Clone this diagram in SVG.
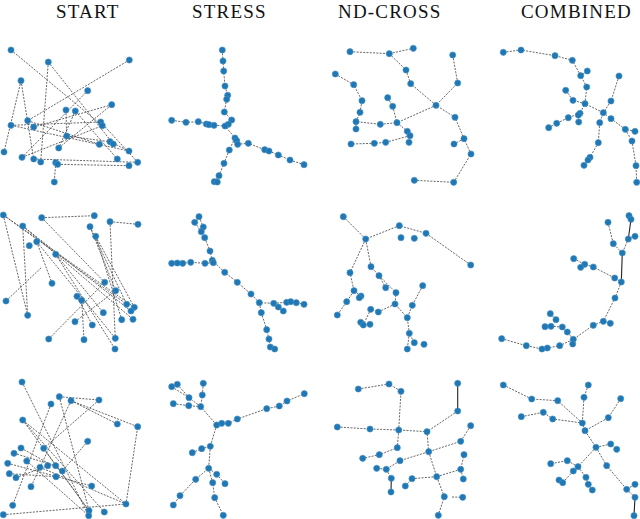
<svg xmlns="http://www.w3.org/2000/svg" width="640" height="519" viewBox="0 0 640 519">
<style>
.t{font-family:"Liberation Serif","Times New Roman",serif;font-size:19px;letter-spacing:1.2px;fill:#111}
.e{fill:none;stroke:#4a4a4a;stroke-width:0.85;stroke-dasharray:2 1.3}
.s{fill:none;stroke:#222;stroke-width:1.1}
circle{fill:#1f77b4;stroke:#4a93c8;stroke-width:0.6}
</style>
<rect width="640" height="519" fill="#fff"/>
<g id="titles">
<text class="t" x="56" y="18">START</text>
<text class="t" x="192" y="18">STRESS</text>
<text class="t" x="338" y="18">ND-CROSS</text>
<text class="t" x="521" y="18">COMBINED</text>
</g>
<g id="connectors">
<path class="e" d="M11,50L102.3,125.7M48.3,62L40.7,162M48.3,62L113.3,144M129.3,60L27.7,120.7M21,80.7L4,152M21,80.7L33.7,159M87.7,90.7L22,157.3M111.7,104.7L33.7,127M66,110L66.7,136M75.3,111L117.3,159M11,125.3L100.7,122M11,125.3L129,151M27.7,120.7L99.3,144.3M22,157.3L102.3,125.7M58.7,148L111.7,104.7M33.7,159L137.7,162.3M57.7,164.3L129,165.7M55.7,162.7L54.3,182M66.7,136L110,141.7M100.7,122L137.7,162.3M110,141.7L129,151M75.3,111L58.7,148"/>
<path class="e" d="M222.3,50L223,61L223.7,71L225,86L227.7,95.3L226.7,99.3L224.3,112L231.7,120L228.3,124.3L225,126M171.7,120.3L186,122.3L198.3,121.7L206.3,124L209,124.7L214,125.3L225,126L235,138L236.7,140.7L237.7,144.3L248.3,143.3L264.7,149.7L269,151L278.3,155L290,160L304,164.7M235,138L229.3,150L224,163.3L219,175.7L214.3,181.7L217.3,182"/>
<path class="e" d="M350,51.7L389.3,53.7L413.3,48.3M389.3,53.7L406,70L410.7,83.7L436,105.3L455,117.3L464,138.7L471,154L453.7,182.3L414.3,180.3M452.7,55L457.7,83L436,105.3L397,122.7M464,138.7L454,144M335.3,74L353.7,84.7L362,100.7L360,112.3L356,121.7L380.3,124.3L397,122.7M356,121.7L356,129M387.7,97.7L392.7,106.3L397,122.7L407.3,131.3L410,135.7L409,142.3M410,135.7L385.7,142.3L374.3,143.3L351,144"/>
<path class="e" d="M503.3,52.3L521,50L555,55.7L572.3,60.3L580.7,75.7L586.7,87L585,103.7L603.3,112.7L599.7,122.7L598.3,142.7L590,157.3L588,160L584,165.3M587.3,71L580.7,75.7M565.7,90.3L573,100.3L585,103.7L580,113.3L578.3,115L578.7,122M580,113.3L568.3,117.7L556.7,123.3L548.7,127.7M619,76L611,101L603.3,112.7L611,118.7L625.3,129.3L635,131.3M625.3,129.3L632,141L636,165.7L636.7,182.3"/>
<path class="e" d="M3.3,215L134.3,307.3M3.3,215L27.7,315.3M3.3,215L126.7,304.3M41.7,217.7L94.3,215.7M41.7,217.7L104.7,282.3M110,221.7L138,224.3M110,221.7L115.3,338.3M22.7,226L133,319.3M22.7,226L131,311M22.7,226L27.7,315.3M90,226.7L115.7,290.7M95.7,236.3L121.7,319.7M36.7,241.7L52,283.3M55.7,254.3L103.3,312.7M55.7,254.3L115,349M6,301L42,267M48.7,339L104.7,282.3M77,296.3L92.3,325M81.7,300.3L84,339.7M75,321.7L115.7,290.7M90,226.7L126.7,304.3M95.7,236.3L134.3,307.3M36.7,241.7L115.3,338.3"/>
<path class="e" d="M199,216.7L203.3,227L201.3,231.7L204.7,237.7L210,251L212.3,260.3L224.7,272.3L237.3,282.3L251,294L259.3,302.7L273.7,303.3L278.3,307L283.3,311M194.7,222.3L201.3,231.7M171.7,263.3L177.3,263L182.7,263.3L190.7,262.3L205,263.3L213.3,262.7L212.3,260.3M273.7,303.3L286.7,302.3L290.7,301.7L296.3,302.7L304,304.3M259.3,302.7L261.3,312.7L266.7,329.7L269,339L270.3,347L274.7,349"/>
<path class="e" d="M343.3,216.7L365.7,239L399.3,225.7L426,233.3L470.7,265M365.7,239L350,272.7L354,290.7L346.7,301.7L337.3,315M354,290.7L361,296L359.3,297.7M365.7,239L371,266.7L379,275.7L385.7,287.7M379,275.7L396,292.7L395,304L407.3,317.7M395,304L378.3,312L370.7,309.3L363.3,325L360.7,322.3M363.3,325L370,324.3M422.7,285.7L412.3,305.3L407.3,317.7L409.3,333.3L414.3,342.7M409.3,333.3L407.3,349"/>
<path class="e" d="M608,222.3L613.3,243.7L622.3,253M635,236.3L628.3,239L622.3,253M573.7,258.7L584.7,264.3L593.3,267L614.7,278L621.3,282L615,298L603.3,321.3L593.3,325.3L573.3,339.3L559.7,345.7L547.3,348L542,349L526.3,345.7L501.7,338.7M580.7,267.3L584.7,264.3M603.3,321.3L610.3,323.3M573.3,339.3L567.3,332L562.3,327L551,326.3L545,326.7M556,319.7L550.3,313.7M573.3,339.3L572.7,344"/>
<path class="s" d="M629,215.7L631,219.3L628.3,239M622.3,253L621.3,282"/>
<path class="e" d="M22,382L88.7,515.7M59.3,396.7L99,400M71,400.7L137.7,426.7L126,504M71,400.7L117.3,424M51,404L12.7,505.3M59.3,396.7L89,510.7M71,400.7L31,486.7M22.7,420L89,510.7M22.7,420L126,504M22.7,420L104.3,512M99,400L43.7,448.3M87.7,441.3L62.3,471M7.7,463.3L91.7,486M3.3,514.7L126,504M16,477.7L47.7,465.7M26.7,461L88.7,515.7M43.7,448.3L89,510.7M21,448L62.3,471M9.3,473.7L56,476.7M14,453.3L55.7,465.7M40,467.3L126,504"/>
<path class="e" d="M171.7,386.7L189,397.7L200.7,406.7M177.3,384.3L189,397.7M203.3,383.3L202.3,395L200.7,406.7M173.3,403.7L188.7,405.7L200.7,406.7L216.7,425L221.7,423.3L228.3,423.3L237.3,419L266.7,408.7L279.3,406L287,401L304.3,393.7M216.7,425L210.3,446.3L201.7,448.7L192.3,452.7M210.3,446.3L208.7,468.3L195.7,479.3L180,495.7L173.3,505M208.7,468.3L216.7,474.3L225,483.7M208.7,468.3L212.7,482.7L214.7,497.7L223.3,515.3"/>
<path class="e" d="M358.3,389L389,384L401,391.3L398.7,430M457.7,411L427,431.7M337.3,427L370,429L398.7,430L427,431.7L428.7,451.7M398.7,430L397.3,447.7L379.3,454.7L362.7,458.3M470.7,425.7L460.7,441.3L428.7,451.7L400,460.7L386.3,469.3L376.7,468.3M386.3,469.3L391.3,478.3M428.7,451.7L436.7,476.7L444.3,496.7L438.3,515.3M436.7,476.7L412,478.7L405.3,486M436.7,476.7L460.7,469.3L464,454.7M460.7,469.3L463.3,479M452,497L462.7,497.3"/>
<path class="s" d="M457.7,383.3L457.7,411M391.3,478.3L391,492"/>
<path class="e" d="M503.3,385L531.7,399L557.7,400.7L582.3,423M588.3,385L584,397.3L582.3,423M521.3,416.7L543.3,412.3L552.7,419L582.3,423L585,430.7M620.7,398.7L608.3,417.7L585,430.7L596,447.3L610.7,444L616.7,449.3M596,447.3L578,466.7L567.3,460.7L550.7,463.7M578,466.7L573.3,471L562.7,482.7L559,480M578,466.7L586,477.3L588.3,484.3L592.3,490M596,447.3L606.7,465.7L626.7,489.3L635,484.3M626.7,489.3L635,497.3"/>
<path class="s" d="M635,497.3L634,515.7"/>
</g>
<g id="nodes-start-1">
<g id="a1"><circle cx="11" cy="50" r="3.1"/></g><g id="a2"><circle cx="48.3" cy="62" r="3.1"/></g><g id="a3"><circle cx="129.3" cy="60" r="3.1"/></g><g id="a4"><circle cx="21" cy="80.7" r="3.1"/></g><g id="a5"><circle cx="87.7" cy="90.7" r="3.1"/></g><g id="a6"><circle cx="111.7" cy="104.7" r="3.1"/></g><g id="a7"><circle cx="66" cy="110" r="3.1"/></g><g id="a8"><circle cx="75.3" cy="111" r="3.1"/></g><g id="a9"><circle cx="27.7" cy="120.7" r="3.1"/></g><g id="a10"><circle cx="11" cy="125.3" r="3.1"/></g><g id="a11"><circle cx="33.7" cy="127" r="3.1"/></g><g id="a12"><circle cx="100.7" cy="122" r="3.1"/></g><g id="a13"><circle cx="102.3" cy="125.7" r="3.1"/></g><g id="a14"><circle cx="66.7" cy="136" r="3.1"/></g><g id="a15"><circle cx="110" cy="141.7" r="3.1"/></g><g id="a16"><circle cx="113.3" cy="144" r="3.1"/></g><g id="a17"><circle cx="99.3" cy="144.3" r="3.1"/></g><g id="a18"><circle cx="129" cy="151" r="3.1"/></g><g id="a19"><circle cx="58.7" cy="148" r="3.1"/></g><g id="a20"><circle cx="4" cy="152" r="3.1"/></g><g id="a21"><circle cx="22" cy="157.3" r="3.1"/></g><g id="a22"><circle cx="33.7" cy="159" r="3.1"/></g><g id="a23"><circle cx="40.7" cy="162" r="3.1"/></g><g id="a24"><circle cx="55.7" cy="162.7" r="3.1"/></g><g id="a25"><circle cx="57.7" cy="164.3" r="3.1"/></g><g id="a26"><circle cx="117.3" cy="159" r="3.1"/></g><g id="a27"><circle cx="137.7" cy="162.3" r="3.1"/></g><g id="a28"><circle cx="129" cy="165.7" r="3.1"/></g><g id="a29"><circle cx="54.3" cy="182" r="3.1"/></g>
</g>
<g id="nodes-stress-1">
<g id="b1"><circle cx="222.3" cy="50" r="3.1"/></g><g id="b2"><circle cx="223" cy="61" r="3.1"/></g><g id="b3"><circle cx="223.7" cy="71" r="3.1"/></g><g id="b4"><circle cx="225" cy="86" r="3.1"/></g><g id="b5"><circle cx="227.7" cy="95.3" r="3.1"/></g><g id="b6"><circle cx="226.7" cy="99.3" r="3.1"/></g><g id="b7"><circle cx="224.3" cy="112" r="3.1"/></g><g id="b8"><circle cx="231.7" cy="120" r="3.1"/></g><g id="b9"><circle cx="228.3" cy="124.3" r="3.1"/></g><g id="b10"><circle cx="225" cy="126" r="3.1"/></g><g id="b11"><circle cx="171.7" cy="120.3" r="3.1"/></g><g id="b12"><circle cx="186" cy="122.3" r="3.1"/></g><g id="b13"><circle cx="198.3" cy="121.7" r="3.1"/></g><g id="b14"><circle cx="206.3" cy="124" r="3.1"/></g><g id="b15"><circle cx="209" cy="124.7" r="3.1"/></g><g id="b16"><circle cx="214" cy="125.3" r="3.1"/></g><g id="b17"><circle cx="235" cy="138" r="3.1"/></g><g id="b18"><circle cx="236.7" cy="140.7" r="3.1"/></g><g id="b19"><circle cx="237.7" cy="144.3" r="3.1"/></g><g id="b20"><circle cx="248.3" cy="143.3" r="3.1"/></g><g id="b21"><circle cx="264.7" cy="149.7" r="3.1"/></g><g id="b22"><circle cx="269" cy="151" r="3.1"/></g><g id="b23"><circle cx="278.3" cy="155" r="3.1"/></g><g id="b24"><circle cx="290" cy="160" r="3.1"/></g><g id="b25"><circle cx="304" cy="164.7" r="3.1"/></g><g id="b26"><circle cx="229.3" cy="150" r="3.1"/></g><g id="b27"><circle cx="224" cy="163.3" r="3.1"/></g><g id="b28"><circle cx="219" cy="175.7" r="3.1"/></g><g id="b29"><circle cx="214.3" cy="181.7" r="3.1"/></g><g id="b30"><circle cx="217.3" cy="182" r="3.1"/></g>
</g>
<g id="nodes-ndcross-1">
<g id="c1"><circle cx="350" cy="51.7" r="3.1"/></g><g id="c2"><circle cx="389.3" cy="53.7" r="3.1"/></g><g id="c3"><circle cx="413.3" cy="48.3" r="3.1"/></g><g id="c4"><circle cx="406" cy="70" r="3.1"/></g><g id="c5"><circle cx="410.7" cy="83.7" r="3.1"/></g><g id="c6"><circle cx="452.7" cy="55" r="3.1"/></g><g id="c7"><circle cx="457.7" cy="83" r="3.1"/></g><g id="c8"><circle cx="335.3" cy="74" r="3.1"/></g><g id="c9"><circle cx="353.7" cy="84.7" r="3.1"/></g><g id="c10"><circle cx="362" cy="100.7" r="3.1"/></g><g id="c11"><circle cx="360" cy="112.3" r="3.1"/></g><g id="c12"><circle cx="387.7" cy="97.7" r="3.1"/></g><g id="c13"><circle cx="392.7" cy="106.3" r="3.1"/></g><g id="c14"><circle cx="436" cy="105.3" r="3.1"/></g><g id="c15"><circle cx="455" cy="117.3" r="3.1"/></g><g id="c16"><circle cx="356" cy="121.7" r="3.1"/></g><g id="c17"><circle cx="380.3" cy="124.3" r="3.1"/></g><g id="c18"><circle cx="397" cy="122.7" r="3.1"/></g><g id="c19"><circle cx="356" cy="129" r="3.1"/></g><g id="c20"><circle cx="407.3" cy="131.3" r="3.1"/></g><g id="c21"><circle cx="410" cy="135.7" r="3.1"/></g><g id="c22"><circle cx="409" cy="142.3" r="3.1"/></g><g id="c23"><circle cx="385.7" cy="142.3" r="3.1"/></g><g id="c24"><circle cx="374.3" cy="143.3" r="3.1"/></g><g id="c25"><circle cx="351" cy="144" r="3.1"/></g><g id="c26"><circle cx="464" cy="138.7" r="3.1"/></g><g id="c27"><circle cx="454" cy="144" r="3.1"/></g><g id="c28"><circle cx="471" cy="154" r="3.1"/></g><g id="c29"><circle cx="414.3" cy="180.3" r="3.1"/></g><g id="c30"><circle cx="453.7" cy="182.3" r="3.1"/></g>
</g>
<g id="nodes-combined-1">
<g id="d1"><circle cx="503.3" cy="52.3" r="3.1"/></g><g id="d2"><circle cx="521" cy="50" r="3.1"/></g><g id="d3"><circle cx="555" cy="55.7" r="3.1"/></g><g id="d4"><circle cx="572.3" cy="60.3" r="3.1"/></g><g id="d5"><circle cx="587.3" cy="71" r="3.1"/></g><g id="d6"><circle cx="580.7" cy="75.7" r="3.1"/></g><g id="d7"><circle cx="586.7" cy="87" r="3.1"/></g><g id="d8"><circle cx="619" cy="76" r="3.1"/></g><g id="d9"><circle cx="565.7" cy="90.3" r="3.1"/></g><g id="d10"><circle cx="573" cy="100.3" r="3.1"/></g><g id="d11"><circle cx="585" cy="103.7" r="3.1"/></g><g id="d12"><circle cx="611" cy="101" r="3.1"/></g><g id="d13"><circle cx="603.3" cy="112.7" r="3.1"/></g><g id="d14"><circle cx="580" cy="113.3" r="3.1"/></g><g id="d15"><circle cx="578.3" cy="115" r="3.1"/></g><g id="d16"><circle cx="568.3" cy="117.7" r="3.1"/></g><g id="d17"><circle cx="578.7" cy="122" r="3.1"/></g><g id="d18"><circle cx="556.7" cy="123.3" r="3.1"/></g><g id="d19"><circle cx="548.7" cy="127.7" r="3.1"/></g><g id="d20"><circle cx="599.7" cy="122.7" r="3.1"/></g><g id="d21"><circle cx="611" cy="118.7" r="3.1"/></g><g id="d22"><circle cx="625.3" cy="129.3" r="3.1"/></g><g id="d23"><circle cx="635" cy="131.3" r="3.1"/></g><g id="d24"><circle cx="632" cy="141" r="3.1"/></g><g id="d25"><circle cx="598.3" cy="142.7" r="3.1"/></g><g id="d26"><circle cx="590" cy="157.3" r="3.1"/></g><g id="d27"><circle cx="588" cy="160" r="3.1"/></g><g id="d28"><circle cx="584" cy="165.3" r="3.1"/></g><g id="d29"><circle cx="636" cy="165.7" r="3.1"/></g><g id="d30"><circle cx="636.7" cy="182.3" r="3.1"/></g>
</g>
<g id="nodes-start-2">
<g id="e1"><circle cx="3.3" cy="215" r="3.1"/></g><g id="e2"><circle cx="41.7" cy="217.7" r="3.1"/></g><g id="e3"><circle cx="94.3" cy="215.7" r="3.1"/></g><g id="e4"><circle cx="110" cy="221.7" r="3.1"/></g><g id="e5"><circle cx="138" cy="224.3" r="3.1"/></g><g id="e6"><circle cx="22.7" cy="226" r="3.1"/></g><g id="e7"><circle cx="90" cy="226.7" r="3.1"/></g><g id="e8"><circle cx="95.7" cy="236.3" r="3.1"/></g><g id="e9"><circle cx="36.7" cy="241.7" r="3.1"/></g><g id="e10"><circle cx="29.3" cy="245.7" r="3.1"/></g><g id="e11"><circle cx="55.7" cy="254.3" r="3.1"/></g><g id="e12"><circle cx="52" cy="283.3" r="3.1"/></g><g id="e13"><circle cx="104.7" cy="282.3" r="3.1"/></g><g id="e14"><circle cx="115.7" cy="290.7" r="3.1"/></g><g id="e15"><circle cx="6" cy="301" r="3.1"/></g><g id="e16"><circle cx="77" cy="296.3" r="3.1"/></g><g id="e17"><circle cx="81.7" cy="300.3" r="3.1"/></g><g id="e18"><circle cx="126.7" cy="304.3" r="3.1"/></g><g id="e19"><circle cx="134.3" cy="307.3" r="3.1"/></g><g id="e20"><circle cx="131" cy="311" r="3.1"/></g><g id="e21"><circle cx="103.3" cy="312.7" r="3.1"/></g><g id="e22"><circle cx="27.7" cy="315.3" r="3.1"/></g><g id="e23"><circle cx="121.7" cy="319.7" r="3.1"/></g><g id="e24"><circle cx="133" cy="319.3" r="3.1"/></g><g id="e25"><circle cx="75" cy="321.7" r="3.1"/></g><g id="e26"><circle cx="92.3" cy="325" r="3.1"/></g><g id="e27"><circle cx="48.7" cy="339" r="3.1"/></g><g id="e28"><circle cx="84" cy="339.7" r="3.1"/></g><g id="e29"><circle cx="115.3" cy="338.3" r="3.1"/></g><g id="e30"><circle cx="115" cy="349" r="3.1"/></g>
</g>
<g id="nodes-stress-2">
<g id="f1"><circle cx="199" cy="216.7" r="3.1"/></g><g id="f2"><circle cx="194.7" cy="222.3" r="3.1"/></g><g id="f3"><circle cx="203.3" cy="227" r="3.1"/></g><g id="f4"><circle cx="201.3" cy="231.7" r="3.1"/></g><g id="f5"><circle cx="204.7" cy="237.7" r="3.1"/></g><g id="f6"><circle cx="210" cy="251" r="3.1"/></g><g id="f7"><circle cx="212.3" cy="260.3" r="3.1"/></g><g id="f8"><circle cx="213.3" cy="262.7" r="3.1"/></g><g id="f9"><circle cx="205" cy="263.3" r="3.1"/></g><g id="f10"><circle cx="190.7" cy="262.3" r="3.1"/></g><g id="f11"><circle cx="182.7" cy="263.3" r="3.1"/></g><g id="f12"><circle cx="177.3" cy="263" r="3.1"/></g><g id="f13"><circle cx="171.7" cy="263.3" r="3.1"/></g><g id="f14"><circle cx="224.7" cy="272.3" r="3.1"/></g><g id="f15"><circle cx="237.3" cy="282.3" r="3.1"/></g><g id="f16"><circle cx="251" cy="294" r="3.1"/></g><g id="f17"><circle cx="259.3" cy="302.7" r="3.1"/></g><g id="f18"><circle cx="273.7" cy="303.3" r="3.1"/></g><g id="f19"><circle cx="278.3" cy="307" r="3.1"/></g><g id="f20"><circle cx="283.3" cy="311" r="3.1"/></g><g id="f21"><circle cx="286.7" cy="302.3" r="3.1"/></g><g id="f22"><circle cx="290.7" cy="301.7" r="3.1"/></g><g id="f23"><circle cx="296.3" cy="302.7" r="3.1"/></g><g id="f24"><circle cx="304" cy="304.3" r="3.1"/></g><g id="f25"><circle cx="261.3" cy="312.7" r="3.1"/></g><g id="f26"><circle cx="266.7" cy="329.7" r="3.1"/></g><g id="f27"><circle cx="269" cy="339" r="3.1"/></g><g id="f28"><circle cx="270.3" cy="347" r="3.1"/></g><g id="f29"><circle cx="274.7" cy="349" r="3.1"/></g>
</g>
<g id="nodes-ndcross-2">
<g id="g1"><circle cx="343.3" cy="216.7" r="3.1"/></g><g id="g2"><circle cx="399.3" cy="225.7" r="3.1"/></g><g id="g3"><circle cx="426" cy="233.3" r="3.1"/></g><g id="g4"><circle cx="470.7" cy="265" r="3.1"/></g><g id="g5"><circle cx="401" cy="237.7" r="3.1"/></g><g id="g6"><circle cx="414.3" cy="238.3" r="3.1"/></g><g id="g7"><circle cx="365.7" cy="239" r="3.1"/></g><g id="g8"><circle cx="350" cy="272.7" r="3.1"/></g><g id="g9"><circle cx="371" cy="266.7" r="3.1"/></g><g id="g10"><circle cx="379" cy="275.7" r="3.1"/></g><g id="g11"><circle cx="385.7" cy="287.7" r="3.1"/></g><g id="g12"><circle cx="396" cy="292.7" r="3.1"/></g><g id="g13"><circle cx="395" cy="304" r="3.1"/></g><g id="g14"><circle cx="422.7" cy="285.7" r="3.1"/></g><g id="g15"><circle cx="412.3" cy="305.3" r="3.1"/></g><g id="g16"><circle cx="407.3" cy="317.7" r="3.1"/></g><g id="g17"><circle cx="354" cy="290.7" r="3.1"/></g><g id="g18"><circle cx="361" cy="296" r="3.1"/></g><g id="g19"><circle cx="359.3" cy="297.7" r="3.1"/></g><g id="g20"><circle cx="346.7" cy="301.7" r="3.1"/></g><g id="g21"><circle cx="337.3" cy="315" r="3.1"/></g><g id="g22"><circle cx="370.7" cy="309.3" r="3.1"/></g><g id="g23"><circle cx="378.3" cy="312" r="3.1"/></g><g id="g24"><circle cx="360.7" cy="322.3" r="3.1"/></g><g id="g25"><circle cx="363.3" cy="325" r="3.1"/></g><g id="g26"><circle cx="370" cy="324.3" r="3.1"/></g><g id="g27"><circle cx="409.3" cy="333.3" r="3.1"/></g><g id="g28"><circle cx="414.3" cy="342.7" r="3.1"/></g><g id="g29"><circle cx="424" cy="344.3" r="3.1"/></g><g id="g30"><circle cx="407.3" cy="349" r="3.1"/></g>
</g>
<g id="nodes-combined-2">
<g id="h1"><circle cx="629" cy="215.7" r="3.1"/></g><g id="h2"><circle cx="631" cy="219.3" r="3.1"/></g><g id="h3"><circle cx="608" cy="222.3" r="3.1"/></g><g id="h4"><circle cx="628.3" cy="239" r="3.1"/></g><g id="h5"><circle cx="635" cy="236.3" r="3.1"/></g><g id="h6"><circle cx="613.3" cy="243.7" r="3.1"/></g><g id="h7"><circle cx="622.3" cy="253" r="3.1"/></g><g id="h8"><circle cx="573.7" cy="258.7" r="3.1"/></g><g id="h9"><circle cx="584.7" cy="264.3" r="3.1"/></g><g id="h10"><circle cx="580.7" cy="267.3" r="3.1"/></g><g id="h11"><circle cx="593.3" cy="267" r="3.1"/></g><g id="h12"><circle cx="614.7" cy="278" r="3.1"/></g><g id="h13"><circle cx="621.3" cy="282" r="3.1"/></g><g id="h14"><circle cx="615" cy="298" r="3.1"/></g><g id="h15"><circle cx="550.3" cy="313.7" r="3.1"/></g><g id="h16"><circle cx="556" cy="319.7" r="3.1"/></g><g id="h17"><circle cx="603.3" cy="321.3" r="3.1"/></g><g id="h18"><circle cx="610.3" cy="323.3" r="3.1"/></g><g id="h19"><circle cx="593.3" cy="325.3" r="3.1"/></g><g id="h20"><circle cx="545" cy="326.7" r="3.1"/></g><g id="h21"><circle cx="551" cy="326.3" r="3.1"/></g><g id="h22"><circle cx="562.3" cy="327" r="3.1"/></g><g id="h23"><circle cx="567.3" cy="332" r="3.1"/></g><g id="h24"><circle cx="573.3" cy="339.3" r="3.1"/></g><g id="h25"><circle cx="572.7" cy="344" r="3.1"/></g><g id="h26"><circle cx="559.7" cy="345.7" r="3.1"/></g><g id="h27"><circle cx="547.3" cy="348" r="3.1"/></g><g id="h28"><circle cx="542" cy="349" r="3.1"/></g><g id="h29"><circle cx="526.3" cy="345.7" r="3.1"/></g><g id="h30"><circle cx="501.7" cy="338.7" r="3.1"/></g>
</g>
<g id="nodes-start-3">
<g id="i1"><circle cx="22" cy="382" r="3.1"/></g><g id="i2"><circle cx="59.3" cy="396.7" r="3.1"/></g><g id="i3"><circle cx="71" cy="400.7" r="3.1"/></g><g id="i4"><circle cx="99" cy="400" r="3.1"/></g><g id="i5"><circle cx="51" cy="404" r="3.1"/></g><g id="i6"><circle cx="117.3" cy="424" r="3.1"/></g><g id="i7"><circle cx="137.7" cy="426.7" r="3.1"/></g><g id="i8"><circle cx="22.7" cy="420" r="3.1"/></g><g id="i9"><circle cx="87.7" cy="441.3" r="3.1"/></g><g id="i10"><circle cx="21" cy="448" r="3.1"/></g><g id="i11"><circle cx="14" cy="453.3" r="3.1"/></g><g id="i12"><circle cx="43.7" cy="448.3" r="3.1"/></g><g id="i13"><circle cx="7.7" cy="463.3" r="3.1"/></g><g id="i14"><circle cx="26.7" cy="461" r="3.1"/></g><g id="i15"><circle cx="40" cy="467.3" r="3.1"/></g><g id="i16"><circle cx="47.7" cy="465.7" r="3.1"/></g><g id="i17"><circle cx="55.7" cy="465.7" r="3.1"/></g><g id="i18"><circle cx="62.3" cy="471" r="3.1"/></g><g id="i19"><circle cx="56" cy="476.7" r="3.1"/></g><g id="i20"><circle cx="9.3" cy="473.7" r="3.1"/></g><g id="i21"><circle cx="16" cy="477.7" r="3.1"/></g><g id="i22"><circle cx="31" cy="486.7" r="3.1"/></g><g id="i23"><circle cx="91.7" cy="486" r="3.1"/></g><g id="i24"><circle cx="126" cy="504" r="3.1"/></g><g id="i25"><circle cx="12.7" cy="505.3" r="3.1"/></g><g id="i26"><circle cx="3.3" cy="514.7" r="3.1"/></g><g id="i27"><circle cx="89" cy="510.7" r="3.1"/></g><g id="i28"><circle cx="88.7" cy="515.7" r="3.1"/></g><g id="i29"><circle cx="104.3" cy="512" r="3.1"/></g>
</g>
<g id="nodes-stress-3">
<g id="j1"><circle cx="171.7" cy="386.7" r="3.1"/></g><g id="j2"><circle cx="177.3" cy="384.3" r="3.1"/></g><g id="j3"><circle cx="203.3" cy="383.3" r="3.1"/></g><g id="j4"><circle cx="202.3" cy="395" r="3.1"/></g><g id="j5"><circle cx="189" cy="397.7" r="3.1"/></g><g id="j6"><circle cx="173.3" cy="403.7" r="3.1"/></g><g id="j7"><circle cx="188.7" cy="405.7" r="3.1"/></g><g id="j8"><circle cx="200.7" cy="406.7" r="3.1"/></g><g id="j9"><circle cx="304.3" cy="393.7" r="3.1"/></g><g id="j10"><circle cx="287" cy="401" r="3.1"/></g><g id="j11"><circle cx="279.3" cy="406" r="3.1"/></g><g id="j12"><circle cx="266.7" cy="408.7" r="3.1"/></g><g id="j13"><circle cx="237.3" cy="419" r="3.1"/></g><g id="j14"><circle cx="228.3" cy="423.3" r="3.1"/></g><g id="j15"><circle cx="221.7" cy="423.3" r="3.1"/></g><g id="j16"><circle cx="216.7" cy="425" r="3.1"/></g><g id="j17"><circle cx="210.3" cy="446.3" r="3.1"/></g><g id="j18"><circle cx="201.7" cy="448.7" r="3.1"/></g><g id="j19"><circle cx="192.3" cy="452.7" r="3.1"/></g><g id="j20"><circle cx="208.7" cy="468.3" r="3.1"/></g><g id="j21"><circle cx="216.7" cy="474.3" r="3.1"/></g><g id="j22"><circle cx="195.7" cy="479.3" r="3.1"/></g><g id="j23"><circle cx="212.7" cy="482.7" r="3.1"/></g><g id="j24"><circle cx="225" cy="483.7" r="3.1"/></g><g id="j25"><circle cx="180" cy="495.7" r="3.1"/></g><g id="j26"><circle cx="173.3" cy="505" r="3.1"/></g><g id="j27"><circle cx="214.7" cy="497.7" r="3.1"/></g><g id="j28"><circle cx="223.3" cy="515.3" r="3.1"/></g>
</g>
<g id="nodes-ndcross-3">
<g id="k1"><circle cx="358.3" cy="389" r="3.1"/></g><g id="k2"><circle cx="389" cy="384" r="3.1"/></g><g id="k3"><circle cx="401" cy="391.3" r="3.1"/></g><g id="k4"><circle cx="457.7" cy="383.3" r="3.1"/></g><g id="k5"><circle cx="457.7" cy="411" r="3.1"/></g><g id="k6"><circle cx="470.7" cy="425.7" r="3.1"/></g><g id="k7"><circle cx="337.3" cy="427" r="3.1"/></g><g id="k8"><circle cx="370" cy="429" r="3.1"/></g><g id="k9"><circle cx="398.7" cy="430" r="3.1"/></g><g id="k10"><circle cx="427" cy="431.7" r="3.1"/></g><g id="k11"><circle cx="397.3" cy="447.7" r="3.1"/></g><g id="k12"><circle cx="379.3" cy="454.7" r="3.1"/></g><g id="k13"><circle cx="362.7" cy="458.3" r="3.1"/></g><g id="k14"><circle cx="460.7" cy="441.3" r="3.1"/></g><g id="k15"><circle cx="428.7" cy="451.7" r="3.1"/></g><g id="k16"><circle cx="400" cy="460.7" r="3.1"/></g><g id="k17"><circle cx="376.7" cy="468.3" r="3.1"/></g><g id="k18"><circle cx="386.3" cy="469.3" r="3.1"/></g><g id="k19"><circle cx="391.3" cy="478.3" r="3.1"/></g><g id="k20"><circle cx="391" cy="492" r="3.1"/></g><g id="k21"><circle cx="464" cy="454.7" r="3.1"/></g><g id="k22"><circle cx="460.7" cy="469.3" r="3.1"/></g><g id="k23"><circle cx="463.3" cy="479" r="3.1"/></g><g id="k24"><circle cx="436.7" cy="476.7" r="3.1"/></g><g id="k25"><circle cx="412" cy="478.7" r="3.1"/></g><g id="k26"><circle cx="405.3" cy="486" r="3.1"/></g><g id="k27"><circle cx="444.3" cy="496.7" r="3.1"/></g><g id="k28"><circle cx="462.7" cy="497.3" r="3.1"/></g><g id="k29"><circle cx="438.3" cy="515.3" r="3.1"/></g>
</g>
<g id="nodes-combined-3">
<g id="l1"><circle cx="503.3" cy="385" r="3.1"/></g><g id="l2"><circle cx="531.7" cy="399" r="3.1"/></g><g id="l3"><circle cx="557.7" cy="400.7" r="3.1"/></g><g id="l4"><circle cx="588.3" cy="385" r="3.1"/></g><g id="l5"><circle cx="584" cy="397.3" r="3.1"/></g><g id="l6"><circle cx="620.7" cy="398.7" r="3.1"/></g><g id="l7"><circle cx="608.3" cy="417.7" r="3.1"/></g><g id="l8"><circle cx="521.3" cy="416.7" r="3.1"/></g><g id="l9"><circle cx="543.3" cy="412.3" r="3.1"/></g><g id="l10"><circle cx="552.7" cy="419" r="3.1"/></g><g id="l11"><circle cx="582.3" cy="423" r="3.1"/></g><g id="l12"><circle cx="585" cy="430.7" r="3.1"/></g><g id="l13"><circle cx="610.7" cy="444" r="3.1"/></g><g id="l14"><circle cx="616.7" cy="449.3" r="3.1"/></g><g id="l15"><circle cx="596" cy="447.3" r="3.1"/></g><g id="l16"><circle cx="567.3" cy="460.7" r="3.1"/></g><g id="l17"><circle cx="550.7" cy="463.7" r="3.1"/></g><g id="l18"><circle cx="578" cy="466.7" r="3.1"/></g><g id="l19"><circle cx="573.3" cy="471" r="3.1"/></g><g id="l20"><circle cx="606.7" cy="465.7" r="3.1"/></g><g id="l21"><circle cx="586" cy="477.3" r="3.1"/></g><g id="l22"><circle cx="559" cy="480" r="3.1"/></g><g id="l23"><circle cx="562.7" cy="482.7" r="3.1"/></g><g id="l24"><circle cx="588.3" cy="484.3" r="3.1"/></g><g id="l25"><circle cx="592.3" cy="490" r="3.1"/></g><g id="l26"><circle cx="626.7" cy="489.3" r="3.1"/></g><g id="l27"><circle cx="635" cy="484.3" r="3.1"/></g><g id="l28"><circle cx="635" cy="497.3" r="3.1"/></g><g id="l29"><circle cx="634" cy="515.7" r="3.1"/></g>
</g>
</svg>
